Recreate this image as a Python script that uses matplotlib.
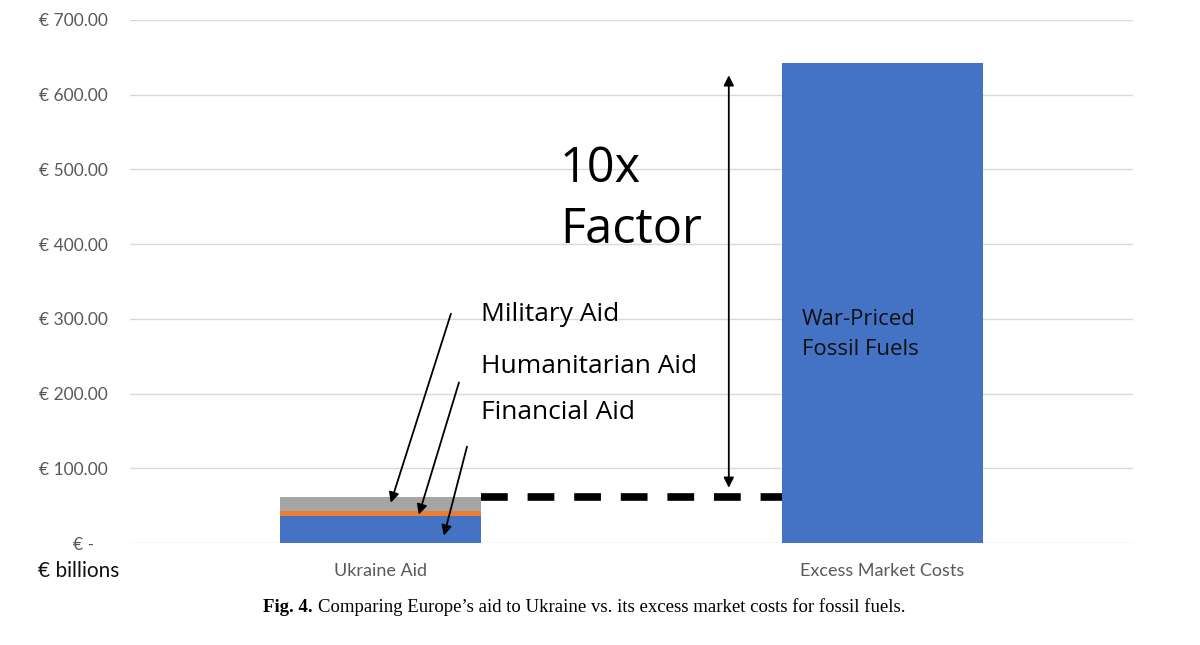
import matplotlib.pyplot as plt

categories = ['Ukraine Aid', 'Excess Market Costs']
financial_aid = [36, 0]
humanitarian_aid = [6.5, 0]
military_aid = [19.5, 0]
fossil_costs = [0, 643]
y_ticks = [0, 100, 200, 300, 400, 500, 600, 700]
y_tick_labels = ['€ -   '] + ['€ %d.00' % v for v in y_ticks[1:]]

plt.rcParams['font.family'] = ['Lato', 'DejaVu Sans']

fig = plt.figure(figsize=(12, 6.45), dpi=100)
ax = fig.add_axes([0.1083, 0.158, 0.8359, 0.811])

x = range(len(categories))
w = 0.4
ax.bar(x, financial_aid, width=w, color='#4472C4', zorder=2)
ax.bar(x, humanitarian_aid, width=w, bottom=financial_aid, color='#ED7D31', zorder=2)
bottom2 = [a + b for a, b in zip(financial_aid, humanitarian_aid)]
ax.bar(x, military_aid, width=w, bottom=bottom2, color='#A5A5A5', zorder=2)
ax.bar(x, fossil_costs, width=w, color='#4472C4', zorder=2)

ax.set_xlim(-0.5, 1.5)
ax.set_ylim(0, 700)
ax.set_yticks(y_ticks)
ax.set_yticklabels(y_tick_labels, fontsize=12.5, color='#595959')
ax.set_xticks(list(x))
ax.set_xticklabels(categories, fontsize=13, color='#595959')
ax.tick_params(length=0)
ax.tick_params(axis='x', pad=14)
ax.tick_params(axis='y', pad=16)
ax.yaxis.grid(True, color='#D9D9D9', linewidth=1, zorder=0)
for s in ax.spines.values():
    s.set_visible(False)

total_aid = bottom2[0] + military_aid[0]
ax.plot([0 + w / 2, 1 - w / 2], [total_aid, total_aid], color='black',
        linewidth=5.5, dashes=(3.5, 2.6), zorder=3)
ax.annotate('', xy=(0.694, 626), xytext=(0.694, 74),
            arrowprops=dict(arrowstyle='<|-|>', color='black', lw=1.3,
                            mutation_scale=15, shrinkA=0, shrinkB=0))

big = ['Open Sans', 'DejaVu Sans']
ax.text(0.357, 483, '10x', fontsize=35, ha='left', va='baseline', family=big)
ax.text(0.357, 401, 'Factor', fontsize=35, ha='left', va='baseline', family=big)

labels = ['Military Aid', 'Humanitarian Aid', 'Financial Aid']
label_y = [306, 236, 175]
arrow_from = [(0.14, 307), (0.156, 215), (0.172, 129)]
arrow_to = [(0.02, 54), (0.076, 38), (0.126, 10)]
for t, ty, a, b in zip(labels, label_y, arrow_from, arrow_to):
    ax.text(0.2, ty, t, fontsize=19, ha='left', va='center', family=big)
    ax.annotate('', xy=b, xytext=a,
                arrowprops=dict(arrowstyle='-|>', color='black', lw=1.3,
                                mutation_scale=15, shrinkA=0, shrinkB=0))

ax.text(0.84, 279, 'War-Priced\nFossil Fuels', fontsize=16, ha='left', va='center',
        color='#111111', linespacing=1.55, family=big)

fig.text(38 / 1200, 1 - 571 / 645, '€ billions', fontsize=15, ha='left', va='center',
         color='#111111')
serif = ['Liberation Serif', 'DejaVu Serif']
fig.text(313 / 1200, 1 - 607 / 645, 'Fig. 4.', fontsize=13.5, ha='right', va='center',
         fontweight='bold', family=serif)
fig.text(318 / 1200, 1 - 607 / 645,
         'Comparing Europe’s aid to Ukraine vs. its excess market costs for fossil fuels.',
         fontsize=13.5, ha='left', va='center', family=serif)

plt.savefig('out.png', dpi=100)
